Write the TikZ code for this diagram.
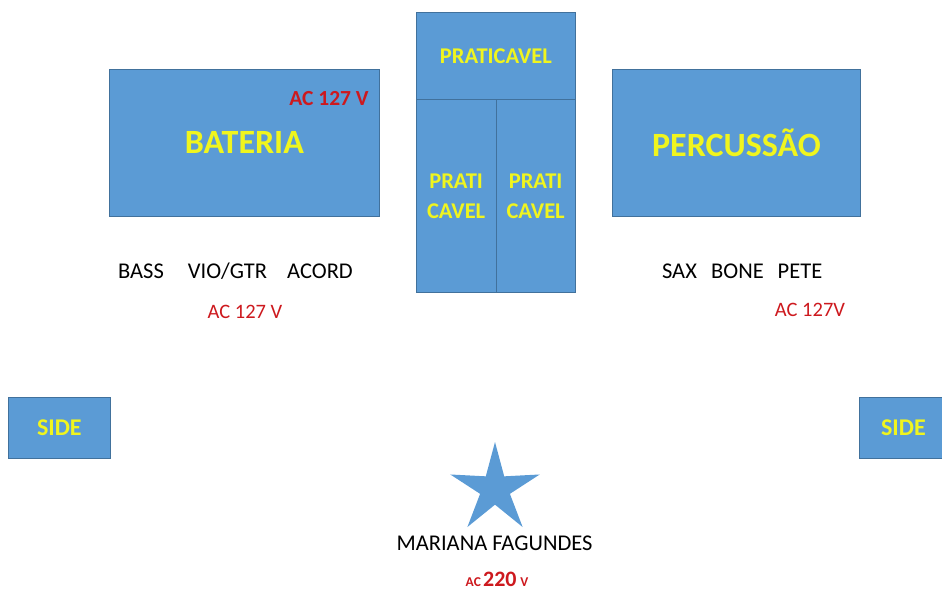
\documentclass[tikz,border=0pt]{standalone}
\usepackage{fontspec}
\setmainfont{Carlito}
\usetikzlibrary{positioning, shapes.geometric}
\definecolor{palco}{RGB}{91,155,213}
\definecolor{borda}{RGB}{65,113,156}
\definecolor{amarelo}{RGB}{240,245,30}
\definecolor{vermelho}{RGB}{205,25,30}
\tikzset{
  caixa/.style={draw=borda, fill=palco, line width=0.8pt, inner sep=0pt,
    anchor=north west, text=amarelo, align=center},
  grande/.style={font=\fontsize{34}{34}\selectfont\bfseries},
  medio/.style={font=\fontsize{22.5}{30}\selectfont\bfseries},
  lado/.style={font=\fontsize{24}{24}\selectfont\bfseries},
  instr/.style={font=\fontsize{22.5}{22.5}\selectfont, inner sep=0pt},
  volt/.style={font=\fontsize{20.5}{20.5}\selectfont, text=vermelho, inner sep=0pt},
  estrela/.style={star, star points=5, star point ratio=3, minimum size=94pt,
    fill=palco, inner sep=0pt}
}
\begin{document}
\begin{tikzpicture}[x=1pt,y=-1pt]
  \useasboundingbox (0,0) rectangle (942,591);
  % palco
  \node[caixa, grande, minimum width=270pt, minimum height=147pt] (bateria) at (109,69) {BATERIA};
  \node[caixa, grande, minimum width=248pt, minimum height=147pt] (percussao) at (612,69) {PERCUSSÃO};
  \node[caixa, medio, minimum width=159pt, minimum height=87pt] (pratTopo) at (416,12) {PRATICAVEL};
  \node[caixa, medio, minimum width=79.5pt, minimum height=193pt] (pratEsq) at (416,99) {PRATI\\CAVEL};
  \node[caixa, medio, minimum width=79.5pt, minimum height=193pt] (pratDir) at (495.5,99) {PRATI\\CAVEL};
  \node[caixa, lado, minimum width=102pt, minimum height=61pt] (sideEsq) at (8,397) {SIDE};
  \node[caixa, lado, minimum width=88pt, minimum height=61pt] (sideDir) at (859,397) {SIDE};
  \node[font=\fontsize{21.5}{21.5}\selectfont\bfseries, text=vermelho, inner sep=0pt] (acBateria) at (329,99) {AC 127 V};
  % instrumentos
  \node[instr] (bass) at (141,271) {BASS};
  \node[instr] (vio) at (227.5,271) {VIO/GTR};
  \node[instr] (acord) at (320,271) {ACORD};
  \node[volt] (acEsq) at (245,312) {AC 127 V};
  \node[instr] (sax) at (679.5,271) {SAX};
  \node[instr] (bone) at (737.5,271) {BONE};
  \node[instr] (pete) at (800,271) {PETE};
  \node[volt] (acDir) at (810,310) {AC 127V};
  % cantora
  \node[estrela] (cantora) at (495,489) {};
  \node[instr] (nome) at (494.5,543) {MARIANA FAGUNDES};
  \node[text=vermelho, inner sep=0pt, font=\bfseries] (ac220) at (497,579)
    {\fontsize{13.5}{13.5}\selectfont AC\,\fontsize{22}{22}\selectfont 220\,\fontsize{13.5}{13.5}\selectfont V};
\end{tikzpicture}
\end{document}
